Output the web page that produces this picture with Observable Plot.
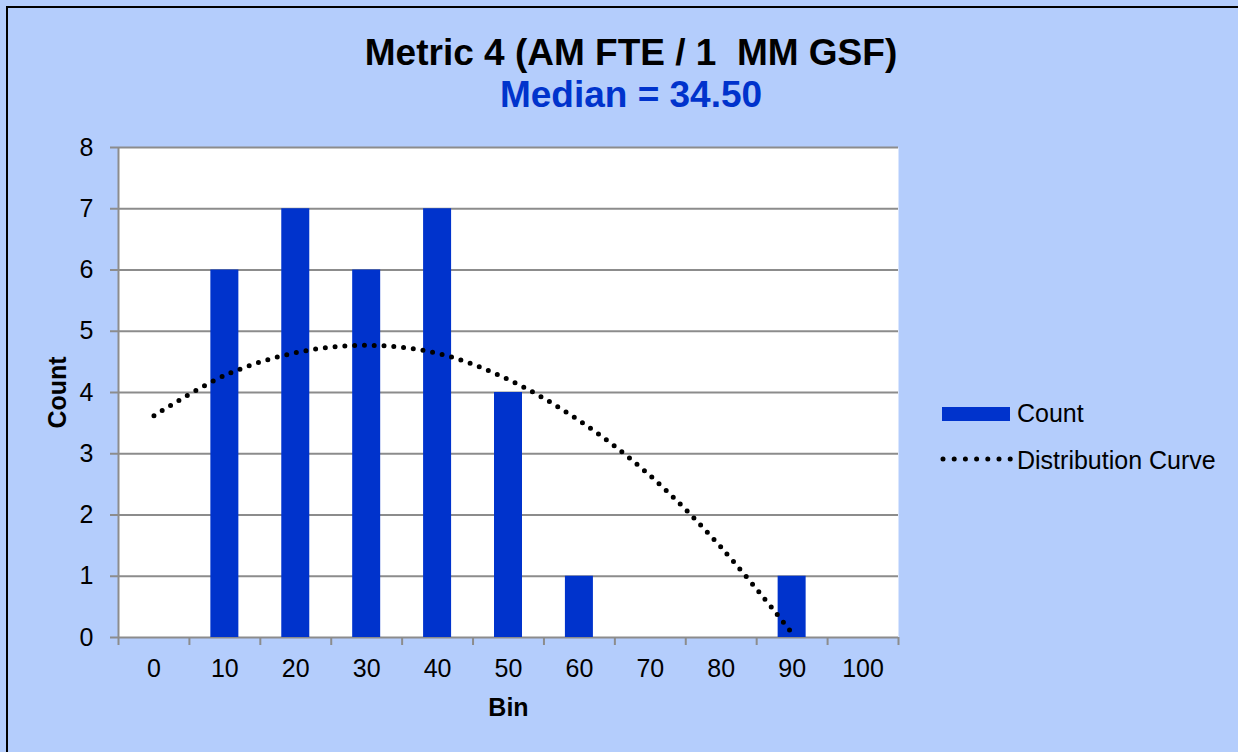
<!DOCTYPE html>
<html>
<head>
<meta charset="utf-8">
<script src="https://cdn.jsdelivr.net/npm/d3@7"></script>
<script src="https://cdn.jsdelivr.net/npm/@observablehq/plot@0.6"></script>
<style>
  body { margin: 0; background: #b4cdfc; }
  #chart { position: relative; width: 1238px; height: 752px; background: #b4cdfc; overflow: hidden;
           font-family: "Liberation Sans", Arial, sans-serif; color: #000; }
  #border { position: absolute; left: 6px; top: 6px; width: 1260px; height: 780px;
            border: 2px solid #000; box-sizing: border-box; pointer-events: none; }
  .title { position: absolute; left: 0; width: 1262px; text-align: center; font-weight: bold;
           white-space: pre; }
  #t1 { top: 34px; font-size: 37px; line-height: 37px; color: #000; }
  #t2 { top: 76px; font-size: 37px; line-height: 37px; color: #0033cc; }
  #plot { position: absolute; left: 0; top: 125px; }
  .leg { position: absolute; font-size: 25px; line-height: 25px; white-space: nowrap; }
  #swatch { position: absolute; left: 942px; top: 407px; width: 68px; height: 14px; background: #0033cc; }
  #dots { position: absolute; left: 940px; top: 454px; }
</style>
</head>
<body>
<div id="chart">
  <div id="t1" class="title">Metric 4 (AM FTE / 1  MM GSF)</div>
  <div id="t2" class="title">Median = 34.50</div>
  <div id="plot"></div>
  <div id="swatch"></div>
  <div class="leg" style="left:1017px; top:401px;">Count</div>
  <svg id="dots" width="76" height="10"><line x1="3" y1="5" x2="71" y2="5" stroke="#000" stroke-width="5" stroke-linecap="round" stroke-dasharray="0 11.2"/></svg>
  <div class="leg" style="left:1017px; top:448px;">Distribution Curve</div>
  <div id="border"></div>
</div>
<script>
// ---- data ----
const bins = ["0", "10", "20", "30", "40", "50", "60", "70", "80", "90", "100"];
const counts = [0, 6, 7, 6, 7, 4, 1, 0, 0, 1, 0];
const curveBins = ["0", "10", "20", "30", "40", "50", "60", "70", "80", "90"];
const curveValues = [3.62, 4.28, 4.65, 4.77, 4.64, 4.21, 3.54, 2.64, 1.47, 0.07];
const yTicks = [0, 1, 2, 3, 4, 5, 6, 7, 8];

const barData = bins.map((b, i) => ({bin: b, count: counts[i]}));
const curveData = curveBins.map((b, i) => ({bin: b, value: curveValues[i]}));

const W = 910, H = 627, mL = 118, mR = 12, mT = 22, mB = 115;
const bw = (W - mL - mR) / bins.length;
const barWidth = 28;
const grid = "#8c8c8c";
const font = "'Liberation Sans', Arial, sans-serif";

const chart = Plot.plot({
  width: W, height: H,
  marginLeft: mL, marginRight: mR, marginTop: mT, marginBottom: mB,
  style: {fontFamily: font, fontSize: "25px", color: "#000", background: "transparent", overflow: "visible"},
  x: {type: "band", domain: bins, padding: 0, round: false, label: null},
  y: {domain: [0, 8], label: null},
  marks: [
    Plot.frame({fill: "white", stroke: null}),
    Plot.ruleY(yTicks, {stroke: grid, strokeWidth: 2, insetLeft: -8}),
    Plot.barY(barData, {x: "bin", y: "count", fill: "#0033cc",
      insetLeft: (bw - barWidth) / 2, insetRight: (bw - barWidth) / 2}),
    Plot.line(curveData, {x: "bin", y: "value", stroke: "#000", strokeWidth: 5,
      strokeDasharray: "0 9.8", strokeLinecap: "round", curve: "catmull-rom"}),
    Plot.ruleX([bins[0]], {dx: -bw / 2, stroke: grid, strokeWidth: 2}),
    Plot.axisX({ticks: bins, tickSize: 8, tickFormat: () => "", dx: -bw / 2, stroke: grid, strokeWidth: 2, label: null}),
    Plot.axisX({ticks: [bins[bins.length - 1]], tickSize: 8, tickFormat: () => "", dx: bw / 2, stroke: grid, strokeWidth: 2, label: null}),
    Plot.axisX({tickSize: 0, tickPadding: 22, label: null, fontSize: 25}),
    Plot.axisY({ticks: yTicks, tickSize: 0, tickPadding: 25, label: null, fontSize: 25}),
    Plot.text(["Bin"], {frameAnchor: "bottom", dy: 70, lineAnchor: "middle", textAnchor: "middle",
      fontWeight: "bold", fontSize: 25}),
    Plot.text(["Count"], {frameAnchor: "left", dx: -61, rotate: -90, lineAnchor: "middle", textAnchor: "middle",
      fontWeight: "bold", fontSize: 25})
  ]
});
document.getElementById("plot").appendChild(chart);
</script>
</body>
</html>
